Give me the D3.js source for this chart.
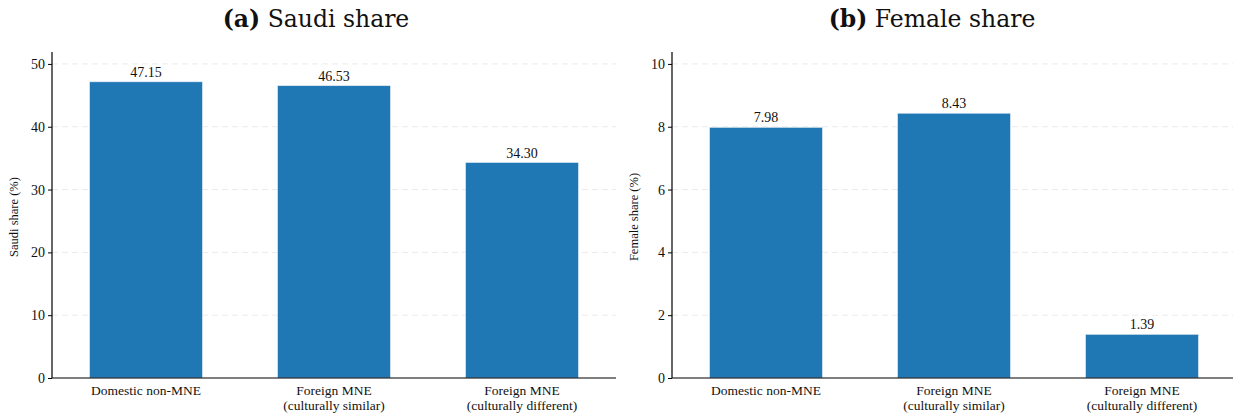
<!DOCTYPE html>
<html>
<head>
<meta charset="utf-8">
<script src="https://cdn.jsdelivr.net/npm/d3@7"></script>
<style>
  body { margin: 0; background: #fff; }
  svg { display: block; }
  text { fill: #111; }
</style>
</head>
<body>
<svg id="fig" width="1233" height="414"></svg>
<script>
// Firm categories shared by both panels
const categories = ["Domestic non-MNE", "Foreign MNE (culturally similar)", "Foreign MNE (culturally different)"];
const categoryLines = [["Domestic non-MNE"], ["Foreign MNE", "(culturally similar)"], ["Foreign MNE", "(culturally different)"]];

// Panel (a): Saudi share of employment, %
const saudiShare = [47.15, 46.53, 34.30];
const saudiTicks = [0, 10, 20, 30, 40, 50];

// Panel (b): female share of employment, %
const femaleShare = [7.98, 8.43, 1.39];
const femaleTicks = [0, 2, 4, 6, 8, 10];

const barColor = "#1f77b4";
const bodyFont = '"Liberation Serif", "Times New Roman", serif';
const titleFont = '"DejaVu Serif", serif';
const svg = d3.select("#fig");

function panel(opts) {
  const g = svg.append("g");
  const x = d3.scaleBand().domain(categories).range([opts.x0, opts.x1]).paddingInner(0.4).paddingOuter(0.2);
  const y = d3.scaleLinear().domain([0, opts.ymax]).range([378, 52]);

  // dashed horizontal grid
  g.selectAll("line.grid").data(opts.ticks.filter(t => t > 0)).join("line")
    .attr("x1", opts.x0).attr("x2", opts.x1)
    .attr("y1", d => y(d)).attr("y2", d => y(d))
    .attr("stroke", "#ebebeb").attr("stroke-width", 1).attr("stroke-dasharray", "6,4");

  // bars
  g.selectAll("rect.bar").data(opts.values).join("rect")
    .attr("x", (d, i) => x(categories[i]))
    .attr("width", x.bandwidth())
    .attr("y", d => y(d))
    .attr("height", d => y(0) - y(d))
    .attr("fill", barColor)
    .attr("stroke", "#dfe9f2").attr("stroke-width", 0.6);

  // value labels
  g.selectAll("text.val").data(opts.values).join("text")
    .attr("x", (d, i) => x(categories[i]) + x.bandwidth() / 2)
    .attr("y", d => y(d) - 5)
    .attr("text-anchor", "middle")
    .style("font-family", bodyFont)
    .style("font-size", "14px")
    .text(d => d.toFixed(2));

  // y axis
  const yAxis = d3.axisLeft(y).tickValues(opts.ticks).tickSize(4).tickPadding(3).tickFormat(d3.format("d"));
  const ya = g.append("g").attr("transform", `translate(${opts.x0},0)`).call(yAxis);
  ya.select(".domain").attr("stroke", "#000").attr("stroke-width", 1.2).attr("d", `M0,${y.range()[1]}V${y(0)}`);
  ya.selectAll(".tick line").attr("stroke", "#000");
  ya.selectAll(".tick text").attr("fill", "#111")
    .style("font-family", bodyFont).style("font-size", "14px");

  // x axis baseline
  g.append("line").attr("x1", opts.x0).attr("x2", opts.x1)
    .attr("y1", y(0)).attr("y2", y(0)).attr("stroke", "#000").attr("stroke-width", 1.2);

  // category labels
  categoryLines.forEach((lines, i) => {
    const t = g.append("text")
      .attr("x", x(categories[i]) + x.bandwidth() / 2)
      .attr("y", 395)
      .attr("text-anchor", "middle")
      .style("font-family", bodyFont)
      .style("font-size", "13.5px");
    lines.forEach((ln, k) => t.append("tspan")
      .attr("x", x(categories[i]) + x.bandwidth() / 2)
      .attr("dy", k === 0 ? 0 : 14.5).text(ln));
  });

  // y axis title
  g.append("text")
    .attr("transform", `translate(${opts.x0 - 34},${(y(0) + y.range()[1]) / 2 + 2}) rotate(-90)`)
    .attr("text-anchor", "middle")
    .style("font-family", bodyFont)
    .style("font-size", "12.5px")
    .text(opts.ylabel);

  // panel title
  const title = g.append("text")
    .attr("x", opts.titleX).attr("y", 27)
    .attr("text-anchor", "middle")
    .style("font-family", titleFont)
    .style("font-size", "23.5px");
  title.append("tspan").style("font-weight", "bold").text(opts.tag);
  title.append("tspan").text(" " + opts.title);
}

panel({ x0: 52, x1: 616, ymax: 51.9, ticks: saudiTicks, values: saudiShare,
        ylabel: "Saudi share (%)", tag: "(a)", title: "Saudi share", titleX: 316 });
panel({ x0: 672, x1: 1236, ymax: 10.38, ticks: femaleTicks, values: femaleShare,
        ylabel: "Female share (%)", tag: "(b)", title: "Female share", titleX: 932 });
</script>
</body>
</html>
